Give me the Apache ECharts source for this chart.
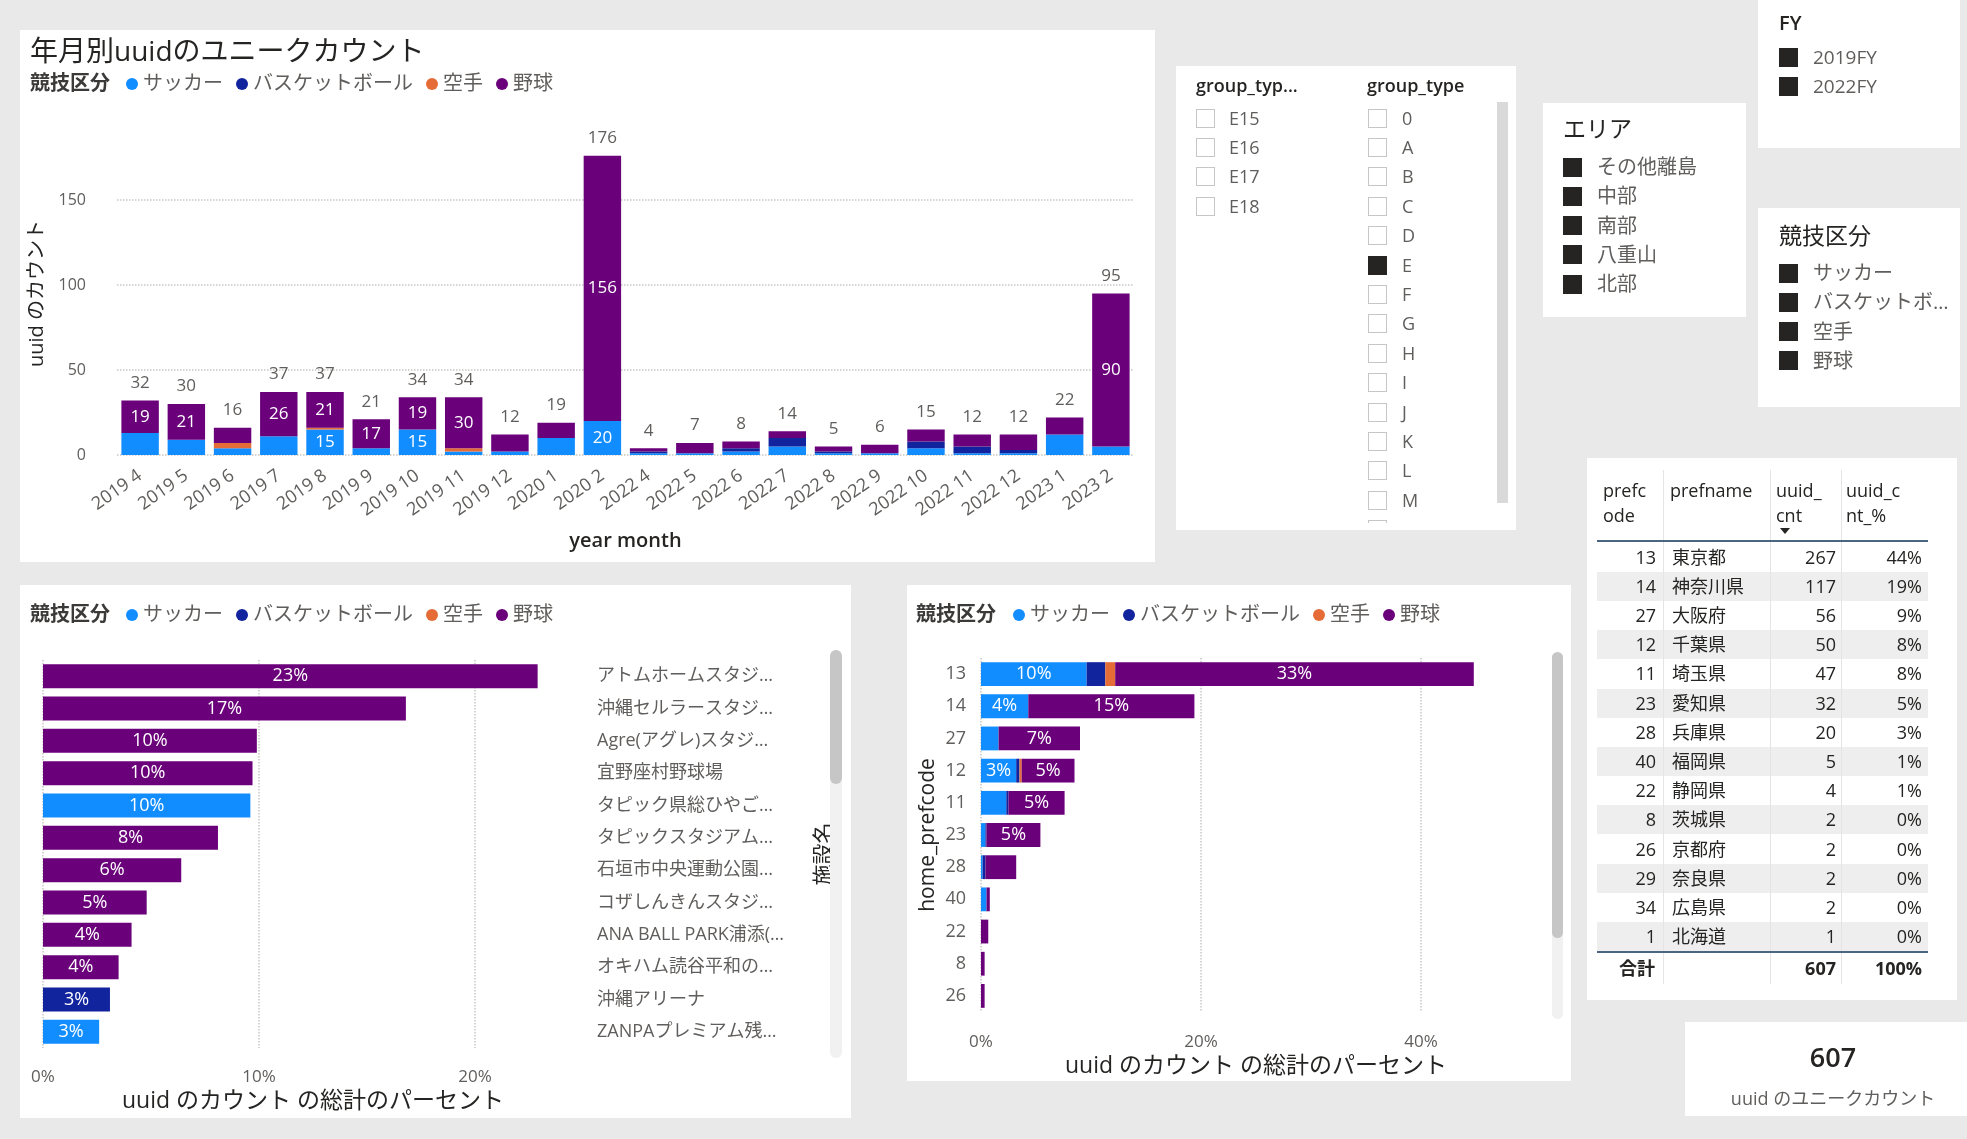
<!DOCTYPE html>
<html lang="ja">
<head>
<meta charset="utf-8">
<title>uuid dashboard</title>
<script src="https://cdn.jsdelivr.net/npm/echarts@6.0.0/dist/echarts.min.js"></script>
<style>
  html, body { margin: 0; padding: 0; }
  body {
    width: 1967px; height: 1139px; overflow: hidden; position: relative;
    background: #e9e9e9;
    font-family: "Open Sans", "Noto Sans CJK JP", sans-serif;
    color: #252423;
  }
  .panel { position: absolute; background: #fff; }
  .abs { position: absolute; white-space: nowrap; }
  #chart { position: absolute; left: 0; top: 0; width: 1967px; height: 1139px; z-index: 1; }
  #ui { position: absolute; left: 0; top: 0; width: 1967px; height: 1139px; z-index: 2; pointer-events: none; }
  .box { position: absolute; width: 19px; height: 19px; box-sizing: border-box; border: 1px solid #c8c6c4; }
  .box.on { background: #252423; border-color: #252423; }
</style>
</head>
<body>
<!-- report panels -->
<div class="panel" style="left:20px;top:30px;width:1135px;height:532px"></div>
<div class="panel" style="left:1176px;top:66px;width:340px;height:464px"></div>
<div class="panel" style="left:1543px;top:103px;width:203px;height:214px"></div>
<div class="panel" style="left:1758px;top:0px;width:202px;height:148px"></div>
<div class="panel" style="left:1758px;top:208px;width:202px;height:199px"></div>
<div class="panel" style="left:1587px;top:458px;width:370px;height:542px"></div>
<div class="panel" style="left:1685px;top:1022px;width:296px;height:94px"></div>
<div class="panel" style="left:20px;top:585px;width:831px;height:533px"></div>
<div class="panel" style="left:907px;top:585px;width:664px;height:496px"></div>

<div id="chart"></div>
<div id="ui"></div>

<script>
// ---- data ----
var sports = ['サッカー', 'バスケットボール', '空手', '野球'];
var sportColors = ['#118DFF', '#12239E', '#E66C37', '#6B007B'];

// 年月別
var months = ['2019 4', '2019 5', '2019 6', '2019 7', '2019 8', '2019 9', '2019 10', '2019 11', '2019 12',
  '2020 1', '2020 2', '2022 4', '2022 5', '2022 6', '2022 7', '2022 8', '2022 9', '2022 10', '2022 11',
  '2022 12', '2023 1', '2023 2'];
var monthSoccer   = [13, 9, 4, 11, 15, 4, 15, 2, 2, 10, 20, 1, 1, 2, 5, 1, 1, 4, 1, 1, 12, 5];
var monthBasket   = [0, 0, 0, 0, 0, 0, 0, 0, 0, 0, 0, 1, 0, 2, 5, 1, 0, 4, 4, 2, 0, 0];
var monthKarate   = [0, 0, 3, 0, 1, 0, 0, 2, 0, 0, 0, 0, 0, 0, 0, 0, 0, 0, 0, 0, 0, 0];
var monthBaseball = [19, 21, 9, 26, 21, 17, 19, 30, 10, 9, 156, 2, 6, 4, 4, 3, 5, 7, 7, 9, 10, 90];
var monthTotal    = [32, 30, 16, 37, 37, 21, 34, 34, 12, 19, 176, 4, 7, 8, 14, 5, 6, 15, 12, 12, 22, 95];

// 施設名
var facilityNames = ['アトムホームスタジ…', '沖縄セルラースタジ…', 'Agre(アグレ)スタジ…', '宜野座村野球場',
  'タピック県総ひやご…', 'タピックスタジアム…', '石垣市中央運動公園…', 'コザしんきんスタジ…',
  'ANA BALL PARK浦添(…', 'オキハム読谷平和の…', '沖縄アリーナ', 'ZANPAプレミアム残…'];
var facilityPct = [22.9, 16.8, 9.9, 9.7, 9.6, 8.1, 6.4, 4.8, 4.1, 3.5, 3.1, 2.6];
var facilitySport = ['野球', '野球', '野球', '野球', 'サッカー', '野球', '野球', '野球', '野球', '野球',
  'バスケットボール', 'サッカー'];

// home_prefcode
var prefBarCodes = ['13', '14', '27', '12', '11', '23', '28', '40', '22', '8', '26'];
var prefSoccer   = [9.6, 4.3, 1.6, 3.2, 2.3, 0.4, 0.15, 0.5, 0, 0, 0];
var prefBasket   = [1.7, 0, 0, 0.3, 0.2, 0.1, 0.25, 0, 0, 0, 0];
var prefKarate   = [0.9, 0, 0, 0.2, 0, 0, 0, 0, 0, 0, 0];
var prefBaseball = [32.6, 15.1, 7.4, 4.8, 5.1, 4.9, 2.8, 0.3, 0.66, 0.33, 0.33];

// table
var tablePrefCode = [13, 14, 27, 12, 11, 23, 28, 40, 22, 8, 26, 29, 34, 1];
var tablePrefName = ['東京都', '神奈川県', '大阪府', '千葉県', '埼玉県', '愛知県', '兵庫県', '福岡県',
  '静岡県', '茨城県', '京都府', '奈良県', '広島県', '北海道'];
var tableUuidCnt = [267, 117, 56, 50, 47, 32, 20, 5, 4, 2, 2, 2, 2, 1];
var tableUuidPct = ['44%', '19%', '9%', '8%', '8%', '5%', '3%', '1%', '1%', '0%', '0%', '0%', '0%', '0%'];
var tableTotal = ['合計', 607, '100%'];

// slicers
var groupTypeA = ['E15', 'E16', 'E17', 'E18'];
var groupTypeB = ['0', 'A', 'B', 'C', 'D', 'E', 'F', 'G', 'H', 'I', 'J', 'K', 'L', 'M', 'N'];
var groupTypeChecked = ['E'];
var areaItems = ['その他離島', '中部', '南部', '八重山', '北部'];
var fyItems = ['2019FY', '2022FY'];
var sportItems = ['サッカー', 'バスケットボ…', '空手', '野球'];
var cardValue = 607;

var GRAY = '#605E5C', DARK = '#252423', LINE = '#C8C6C4';
var FONT = '"Open Sans", "Noto Sans CJK JP", sans-serif';

// ---- html parts: slicers, table, card ----
var ui = document.getElementById('ui');

function addText(parent, text, left, cy, size, opts) {
  opts = opts || {};
  var lh = Math.round(size * 1.4);
  var d = document.createElement('div');
  d.className = 'abs';
  d.textContent = text;
  d.style.left = left + 'px';
  d.style.top = (cy - lh / 2) + 'px';
  d.style.lineHeight = lh + 'px';
  d.style.fontSize = size + 'px';
  d.style.color = opts.color || GRAY;
  if (opts.weight) d.style.fontWeight = opts.weight;
  if (opts.width) {
    d.style.width = opts.width + 'px';
    d.style.textAlign = opts.align || 'left';
  }
  parent.appendChild(d);
  return d;
}

function addBox(parent, left, cy, on) {
  var b = document.createElement('div');
  b.className = on ? 'box on' : 'box';
  b.style.left = left + 'px';
  b.style.top = (cy - 9.5) + 'px';
  parent.appendChild(b);
}

function addRect(parent, left, top, w, h, color, radius) {
  var r = document.createElement('div');
  r.style.cssText = 'position:absolute;left:' + left + 'px;top:' + top + 'px;width:' + w + 'px;height:' +
    h + 'px;background:' + color + ';border-radius:' + (radius || 0) + 'px';
  parent.appendChild(r);
  return r;
}

function addList(parent, labels, boxLeft, textLeft, cy0, step, size, checkedFn) {
  labels.forEach(function(t, i) {
    addBox(parent, boxLeft, cy0 + i * step, checkedFn(t));
    addText(parent, t, textLeft, cy0 + i * step, size);
  });
}

// group_type slicer
addText(ui, 'group_typ...', 1196, 85, 18, { color: DARK, weight: 600 });
addText(ui, 'group_type', 1367, 85, 18, { color: DARK, weight: 600 });
addList(ui, groupTypeA, 1196, 1229, 118, 29.4, 18, function() { return false; });
var clip = document.createElement('div');
clip.style.cssText = 'position:absolute;left:1360px;top:100px;width:130px;height:423px;overflow:hidden';
ui.appendChild(clip);
addList(clip, groupTypeB, 8, 42, 18, 29.4, 18, function(t) { return groupTypeChecked.indexOf(t) >= 0; });
addRect(ui, 1497, 102, 11, 401, '#d9d9d9', 0);

// エリア / FY / 競技区分
addText(ui, 'エリア', 1563, 128, 23, { color: DARK });
addList(ui, areaItems, 1563, 1597, 167, 29.3, 20, function() { return true; });
addText(ui, 'FY', 1779, 23, 20, { color: DARK, weight: 600 });
addList(ui, fyItems, 1779, 1813, 57, 29, 19, function() { return true; });
addText(ui, '競技区分', 1779, 235, 23, { color: DARK });
addList(ui, sportItems, 1779, 1813, 273, 29.3, 20, function() { return true; });

// table
var rowTop = 542.5, rowH = 29.2, tableW = 331;
tablePrefCode.forEach(function(c, i) {
  var cy = rowTop + i * rowH + rowH / 2;
  if (i % 2 === 1) addRect(ui, 1597, rowTop + i * rowH, tableW, rowH, '#eeeeee');
  addText(ui, String(c), 1597, cy, 18, { color: DARK, width: 59, align: 'right' });
  addText(ui, tablePrefName[i], 1672, cy, 18, { color: DARK });
  addText(ui, String(tableUuidCnt[i]), 1774, cy, 18, { color: DARK, width: 62, align: 'right' });
  addText(ui, tableUuidPct[i], 1846, cy, 18, { color: DARK, width: 76, align: 'right' });
});
[1663, 1770, 1841].forEach(function(x) { addRect(ui, x, 470, 1, 514, '#e4e4e4'); });
addRect(ui, 1597, 539.5, tableW, 2, '#4a657f');
addRect(ui, 1597, 950.5, tableW, 2, '#4a657f');
[['prefc', 'ode', 1603], ['prefname', '', 1670], ['uuid_', 'cnt', 1776], ['uuid_c', 'nt_%', 1846]].forEach(function(h) {
  addText(ui, h[0], h[2], 490, 18, { color: DARK });
  if (h[1]) addText(ui, h[1], h[2], 515, 18, { color: DARK });
});
var tri = document.createElement('div');
tri.style.cssText = 'position:absolute;left:1780px;top:528px;width:0;height:0;border-left:5px solid transparent;' +
  'border-right:5px solid transparent;border-top:6px solid #252423';
ui.appendChild(tri);
addText(ui, tableTotal[0], 1619, 968, 18, { color: DARK, weight: 700 });
addText(ui, String(tableTotal[1]), 1774, 968, 18, { color: DARK, weight: 700, width: 62, align: 'right' });
addText(ui, tableTotal[2], 1846, 968, 18, { color: DARK, weight: 700, width: 76, align: 'right' });

// card
addText(ui, String(cardValue), 1685, 1057, 27, { color: DARK, weight: 600, width: 296, align: 'center' });
addText(ui, 'uuid のユニークカウント', 1685, 1098, 18, { color: GRAY, width: 296, align: 'center' });

// scrollbars of the two bar visuals
addRect(ui, 830, 650, 12, 408, '#f1f1f1', 6);
addRect(ui, 830, 650, 12, 134, '#c6c6c6', 6);
addRect(ui, 1552, 652, 11, 367, '#f1f1f1', 6);
addRect(ui, 1552, 652, 11, 286, '#c6c6c6', 6);

// ---- echarts ----
var chart = echarts.init(document.getElementById('chart'));

function byName(arr) {
  return { 'サッカー': arr[0], 'バスケットボール': arr[1], '空手': arr[2], '野球': arr[3] };
}

var monthBySport = byName([monthSoccer, monthBasket, monthKarate, monthBaseball]);
var prefBySport = byName([prefSoccer, prefBasket, prefKarate, prefBaseball]);

function legendAt(left, top) {
  return {
    left: left, top: top, padding: 0, icon: 'circle', itemWidth: 12, itemHeight: 12, itemGap: 13,
    textStyle: { fontSize: 20, color: GRAY, fontFamily: FONT },
    data: sports
  };
}

function legendTitle(left, top) {
  return {
    text: '競技区分', left: left, top: top, padding: 0,
    textStyle: { fontSize: 20, fontWeight: 'bold', color: '#3b3a39', fontFamily: FONT }
  };
}

var axisNameStyle = { fontSize: 23, color: DARK, fontFamily: FONT };
var dotted = { show: true, showMaxLine: false, lineStyle: { type: 'dotted', color: LINE, width: 1.5 } };

var series = [];

sports.forEach(function(s, k) {
  series.push({
    name: s, type: 'bar', stack: 'month', xAxisIndex: 0, yAxisIndex: 0,
    barCategoryGap: '19%', itemStyle: { color: sportColors[k] },
    label: {
      show: true, position: 'inside', color: '#fff', fontSize: 17, fontFamily: FONT,
      formatter: function(p) { return p.value >= 15 ? p.value : ''; }
    },
    data: monthBySport[s]
  });
});
series.push({
  name: '合計', type: 'line', xAxisIndex: 0, yAxisIndex: 0, symbol: 'circle', symbolSize: 2,
  itemStyle: { color: 'rgba(0,0,0,0)' }, lineStyle: { opacity: 0 }, silent: true,
  label: { show: true, position: 'top', distance: 8, color: GRAY, fontSize: 17, fontFamily: FONT },
  data: monthTotal
});

sports.forEach(function(s, k) {
  series.push({
    name: s, type: 'bar', stack: 'facility', xAxisIndex: 1, yAxisIndex: 1,
    barCategoryGap: '26%', itemStyle: { color: sportColors[k] },
    label: {
      show: true, position: 'inside', color: '#fff', fontSize: 18, fontFamily: FONT,
      formatter: function(p) { return Math.round(p.value) + '%'; }
    },
    data: facilityPct.map(function(v, i) { return facilitySport[i] === s ? v : '-'; })
  });
});

sports.forEach(function(s, k) {
  series.push({
    name: s, type: 'bar', stack: 'pref', xAxisIndex: 2, yAxisIndex: 2,
    barCategoryGap: '26%', itemStyle: { color: sportColors[k] },
    label: {
      show: true, position: 'inside', color: '#fff', fontSize: 18, fontFamily: FONT,
      formatter: function(p) { return p.value >= 3 ? Math.round(p.value) + '%' : ''; }
    },
    data: prefBySport[s]
  });
});

var option = {
  animation: false,
  textStyle: { fontFamily: FONT },
  title: [
    {
      text: '年月別uuidのユニークカウント', left: 30, top: 39, padding: 0,
      textStyle: { fontSize: 28, fontWeight: 'normal', color: DARK, fontFamily: FONT }
    },
    legendTitle(30, 74),
    legendTitle(30, 605),
    legendTitle(916, 605)
  ],
  legend: [legendAt(126, 74), legendAt(126, 605), legendAt(1013, 605)],
  grid: [
    { left: 117, right: 833, top: 132, bottom: 684 },
    { left: 43, width: 540, top: 660, height: 388 },
    { left: 981, width: 550, top: 658, height: 354 }
  ],
  xAxis: [
    {
      type: 'category', gridIndex: 0, data: months,
      axisLine: { show: false }, axisTick: { show: false },
      axisLabel: { interval: 0, rotate: 35, margin: 19, fontSize: 18, color: GRAY },
      name: 'year month', nameLocation: 'middle', nameGap: 76,
      nameTextStyle: { fontSize: 20, fontWeight: 600, color: DARK, fontFamily: FONT }
    },
    {
      type: 'value', gridIndex: 1, min: 0, max: 25, interval: 10,
      axisLine: { show: false }, axisTick: { show: false }, splitLine: dotted,
      axisLabel: { formatter: '{value}%', showMaxLabel: false, margin: 21, fontSize: 17, color: GRAY },
      name: 'uuid のカウント の総計のパーセント', nameLocation: 'middle', nameGap: 42,
      nameTextStyle: axisNameStyle
    },
    {
      type: 'value', gridIndex: 2, min: 0, max: 50, interval: 20,
      axisLine: { show: false }, axisTick: { show: false }, splitLine: dotted,
      axisLabel: { formatter: '{value}%', showMaxLabel: false, margin: 22, fontSize: 17, color: GRAY },
      name: 'uuid のカウント の総計のパーセント', nameLocation: 'middle', nameGap: 43,
      nameTextStyle: axisNameStyle
    }
  ],
  yAxis: [
    {
      type: 'value', gridIndex: 0, min: 0, max: 190, interval: 50,
      axisLine: { show: false }, axisTick: { show: false }, splitLine: dotted,
      axisLabel: { showMaxLabel: false, margin: 31, fontSize: 16, color: GRAY },
      name: 'uuid のカウント', nameLocation: 'middle', nameGap: 68,
      nameTextStyle: { fontSize: 20, color: DARK, fontFamily: FONT }
    },
    {
      type: 'category', gridIndex: 1, data: facilityNames, inverse: true, position: 'right',
      axisLine: { show: false }, axisTick: { show: false },
      axisLabel: { interval: 0, margin: 14, fontSize: 18, color: GRAY },
      name: '施設名', nameLocation: 'middle', nameGap: 231,
      nameTextStyle: { fontSize: 21, color: DARK, fontFamily: FONT }
    },
    {
      type: 'category', gridIndex: 2, data: prefBarCodes, inverse: true,
      axisLine: { show: false }, axisTick: { show: false },
      axisLabel: { interval: 0, margin: 15, fontSize: 18, color: GRAY },
      name: 'home_prefcode', nameLocation: 'middle', nameGap: 42,
      nameTextStyle: { fontSize: 21, color: DARK, fontFamily: FONT }
    }
  ],
  series: series
};

chart.setOption(option);
</script>
</body>
</html>
